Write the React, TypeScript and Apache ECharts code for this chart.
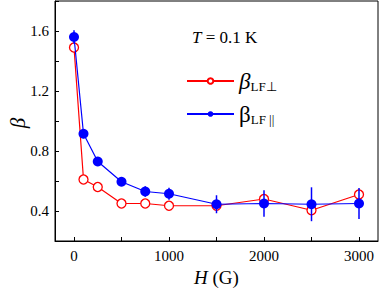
import React, { useEffect, useRef } from 'react';
import * as echarts from 'echarts';

const fieldH = [0, 100, 250, 500, 750, 1000, 1500, 2000, 2500, 3000];
const betaPerp = [1.49, 0.61, 0.56, 0.45, 0.45, 0.435, 0.435, 0.48, 0.405, 0.51];
const betaPar = [1.56, 0.915, 0.73, 0.595, 0.53, 0.515, 0.445, 0.45, 0.445, 0.45];
const betaParErr = [0.045, 0.03, 0.02, 0.02, 0.035, 0.04, 0.06, 0.088, 0.113, 0.103];
const yLabelTicks = [0.4, 0.8, 1.2, 1.6];
const xLabelTicks = [0, 1000, 2000, 3000];

const FONT = 'Liberation Serif';
const RED = '#ff0000';
const BLUE = '#0000ff';

export default function App() {
  const ref = useRef<HTMLDivElement>(null);
  useEffect(() => {
    if (!ref.current) return;
    const chart = echarts.init(ref.current, undefined, { renderer: 'svg' });
    const perpData = fieldH.map((h, i) => [h, betaPerp[i]]);
    const parData = fieldH.map((h, i) => [h, betaPar[i]]);
    const errData = fieldH.map((h, i) => [h, betaPar[i] - betaParErr[i], betaPar[i] + betaParErr[i]]);
    chart.setOption({
      animation: false,
      textStyle: { fontFamily: FONT },
      grid: {
        left: 55, right: 4, top: 1, bottom: 47,
        outerBoundsMode: 'none', containLabel: false,
        show: true, borderColor: '#000', borderWidth: 1, backgroundColor: 'transparent',
      },
      xAxis: {
        type: 'value',
        min: -200,
        max: 3200,
        minInterval: 500,
        maxInterval: 500,
        splitLine: { show: false },
        axisLine: { show: true, onZero: false, lineStyle: { color: '#000', width: 1 } },
        axisTick: { show: true, inside: true, length: 4, lineStyle: { color: '#000' } },
        axisLabel: {
          color: '#000', fontSize: 15, fontFamily: FONT, margin: 7,
          showMinLabel: false, showMaxLabel: false,
          formatter: (v: number) => (xLabelTicks.includes(Math.round(v)) ? String(Math.round(v)) : ''),
        },
        name: '{i|H} (G)',
        nameLocation: 'middle',
        nameGap: 27,
        nameTextStyle: {
          color: '#000', fontSize: 19, fontFamily: FONT,
          rich: { i: { fontStyle: 'italic', fontSize: 19, fontFamily: FONT, color: '#000' } },
        },
      },
      yAxis: {
        type: 'value',
        min: 0.2,
        max: 1.8,
        interval: 0.2,
        splitLine: { show: false },
        axisLine: { show: true, onZero: false, lineStyle: { color: '#000', width: 1 } },
        axisTick: { show: true, inside: true, length: 4, lineStyle: { color: '#000' } },
        axisLabel: {
          color: '#000', fontSize: 15, fontFamily: FONT, margin: 6,
          formatter: (v: number) => {
            const r = Math.round(v * 10) / 10;
            return yLabelTicks.some((t) => Math.abs(t - r) < 1e-6) ? r.toFixed(1) : '';
          },
        },
      },
      legend: {
        orient: 'vertical',
        left: 181,
        top: 65,
        itemWidth: 47,
        itemHeight: 7,
        itemGap: 10,
        data: ['perp', 'par'],
        formatter: (name: string) => (name === 'perp' ? '{b|β}{s|LF⊥}' : '{c|β}{s|LF ||}'),
        textStyle: {
          fontFamily: FONT,
          color: '#000',
          rich: {
            b: { fontSize: 23, fontStyle: 'italic', fontFamily: FONT, color: '#000', lineHeight: 24, verticalAlign: 'bottom' },
            c: { fontSize: 23, fontFamily: FONT, color: '#000', lineHeight: 24, verticalAlign: 'bottom' },
            s: { fontSize: 13, fontFamily: FONT, color: '#000', lineHeight: 13, verticalAlign: 'bottom' },
          },
        },
      },
      graphic: [
        {
          type: 'text',
          left: 192,
          top: 29,
          style: {
            text: '{i|T} = 0.1 K',
            fontSize: 17,
            fontFamily: FONT,
            fill: '#000',
            rich: { i: { fontStyle: 'italic', fontSize: 17, fontFamily: FONT } },
          },
        },
        {
          type: 'text',
          x: 18,
          y: 123,
          rotation: Math.PI / 2,
          style: {
            text: 'β',
            fontSize: 21,
            fontStyle: 'italic',
            fontFamily: FONT,
            fill: '#000',
            align: 'center',
            verticalAlign: 'middle',
          },
        },
      ],
      series: [
        {
          name: 'perp',
          type: 'line',
          data: perpData,
          symbol: 'circle',
          symbolSize: 9,
          z: 2,
          lineStyle: { color: RED, width: 1.2 },
          itemStyle: { color: '#fff', borderColor: RED, borderWidth: 1.3 },
        },
        {
          name: 'parErr',
          type: 'custom',
          data: errData,
          z: 3,
          renderItem: (params: any, api: any) => {
            const x = api.value(0);
            const p1 = api.coord([x, api.value(1)]);
            const p2 = api.coord([x, api.value(2)]);
            return {
              type: 'line',
              shape: { x1: p1[0], y1: p1[1], x2: p2[0], y2: p2[1] },
              style: { stroke: BLUE, lineWidth: 1.5 },
            };
          },
        },
        {
          name: 'par',
          type: 'line',
          data: parData,
          symbol: 'circle',
          symbolSize: 10,
          z: 4,
          lineStyle: { color: BLUE, width: 1.2 },
          itemStyle: { color: BLUE },
        },
      ],
    });
    return () => chart.dispose();
  }, []);
  return <div ref={ref} style={{ width: 382, height: 288, position: 'absolute', left: 0, top: 0 }} />;
}
